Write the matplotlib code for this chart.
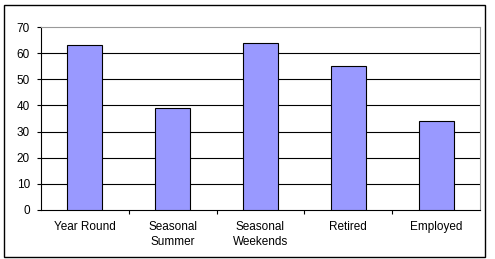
import matplotlib.pyplot as plt
from matplotlib.patches import Rectangle

plt.rcParams['font.family'] = ['Liberation Sans', 'DejaVu Sans']

categories = ['Year Round', 'Seasonal\nSummer', 'Seasonal\nWeekends', 'Retired', 'Employed']
values = [63, 39, 64, 55, 34]
yticks = [0, 10, 20, 30, 40, 50, 60, 70]

fig = plt.figure(figsize=(4.95, 2.59), dpi=100)
# outer chart border
fig.patches.append(Rectangle((4 / 495, 2 / 259), 481 / 495, 252 / 259, transform=fig.transFigure,
                             fill=False, edgecolor='black', linewidth=1.0))

ax = fig.add_axes([41 / 495, 49 / 259, 439 / 495, 183 / 259])
x = range(len(categories))
ax.bar(x, values, width=0.4, color='#9999ff', edgecolor='black', linewidth=0.8, zorder=3)

ax.set_xlim(-0.5, len(categories) - 0.5)
ax.set_ylim(0, 70)
ax.set_yticks(yticks)
ax.set_yticklabels([str(t) for t in yticks], fontsize=8.5)
for t in yticks[1:-1]:
    ax.axhline(t, color='black', linewidth=0.8, zorder=1)

ax.set_xticks([i + 0.5 for i in range(len(categories) - 1)])
ax.set_xticklabels([])
ax.set_xticks(list(x), minor=True)
ax.set_xticklabels(categories, minor=True, fontsize=8.5, linespacing=1.3)
ax.tick_params(axis='x', which='minor', length=0, pad=8)
ax.tick_params(axis='x', which='major', length=3, width=0.8, direction='out')
ax.tick_params(axis='y', length=3, width=0.8, direction='out', pad=5)

ax.spines['left'].set_color('black')
ax.spines['bottom'].set_color('black')
ax.spines['top'].set_color('#999999')
ax.spines['right'].set_color('#999999')
for s in ax.spines.values():
    s.set_linewidth(0.8)

fig.savefig('out.png', dpi=100)
